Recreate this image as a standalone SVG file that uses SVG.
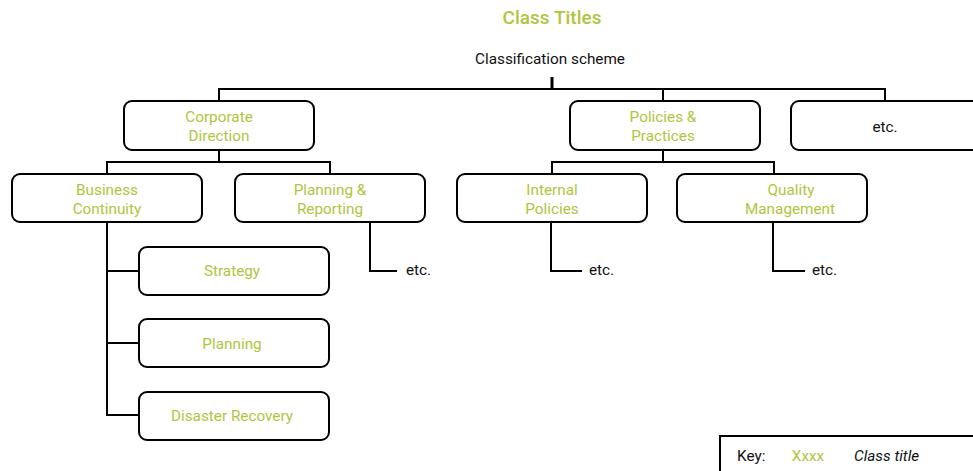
<svg xmlns="http://www.w3.org/2000/svg" width="973" height="471" viewBox="0 0 973 471">
<style>
.box{fill:#fff;stroke:#000;stroke-width:2}
.ln{fill:none;stroke:#000;stroke-width:2}
.g{font-family:Roboto,"Liberation Sans",sans-serif;font-size:15.3px;fill:#b0c53e;text-anchor:middle}
.k{font-family:Roboto,"Liberation Sans",sans-serif;font-size:15.3px;fill:#111}
</style>
<rect width="973" height="471" fill="#fff"/>
<text x="552" y="24" style="font-family:Roboto,'Liberation Sans',sans-serif;font-size:19px;font-weight:500;fill:#b0c53e;text-anchor:middle">Class Titles</text>
<text x="550" y="64" class="k" text-anchor="middle">Classification scheme</text>
<g id="connectors">
<path class="ln" d="M552 77V89M219 101V89H885V101M663 89V101"/>
<path class="ln" d="M219 150V162M107 174V162H330V174"/>
<path class="ln" d="M663 150V162M552 174V162H774V174"/>
<path class="ln" d="M107 222V415H139M107 271H139M107 343H139"/>
<path class="ln" d="M370 222V271H397"/>
<path class="ln" d="M551 222V271H582"/>
<path class="ln" d="M773 222V271H805"/>
<path d="M552 77V89" stroke="#000" stroke-width="3"/>
</g>
<g id="corporate-direction"><rect class="box" x="124" y="101" width="190" height="49" rx="8"/><text class="g" x="219" y="122">Corporate</text><text class="g" x="219" y="141">Direction</text></g>
<g id="policies-practices"><rect class="box" x="570" y="101" width="190" height="49" rx="8"/><text class="g" x="663" y="122">Policies &amp;</text><text class="g" x="663" y="141">Practices</text></g>
<g id="etc-top"><rect class="box" x="791" y="101" width="200" height="49" rx="8"/><text class="k" x="885" y="132" text-anchor="middle">etc.</text></g>
<g id="business-continuity"><rect class="box" x="12" y="174" width="190" height="48" rx="8"/><text class="g" x="107" y="195">Business</text><text class="g" x="107" y="214">Continuity</text></g>
<g id="planning-reporting"><rect class="box" x="235" y="174" width="190" height="48" rx="8"/><text class="g" x="330" y="195">Planning &amp;</text><text class="g" x="330" y="214">Reporting</text></g>
<g id="internal-policies"><rect class="box" x="457" y="174" width="190" height="48" rx="8"/><text class="g" x="552" y="195">Internal</text><text class="g" x="552" y="214">Policies</text></g>
<g id="quality-management"><rect class="box" x="677" y="174" width="190" height="48" rx="8"/><text class="g" x="791" y="195">Quality</text><text class="g" x="790" y="214">Management</text></g>
<g id="strategy"><rect class="box" x="139" y="247" width="190" height="48" rx="8"/><text class="g" x="232" y="276">Strategy</text></g>
<g id="planning"><rect class="box" x="139" y="319" width="190" height="48" rx="8"/><text class="g" x="232" y="349">Planning</text></g>
<g id="disaster-recovery"><rect class="box" x="139" y="392" width="190" height="48" rx="8"/><text class="g" x="232" y="421">Disaster Recovery</text></g>
<g id="etc-pr"><text class="k" x="406" y="275">etc.</text></g>
<g id="etc-ip"><text class="k" x="589" y="275">etc.</text></g>
<g id="etc-qm"><text class="k" x="812" y="275">etc.</text></g>
<g id="key"><rect class="box" x="720" y="436" width="270" height="50"/><text class="k" x="737" y="461">Key:</text><text class="g" x="808" y="461">Xxxx</text><text class="k" x="854" y="461" font-style="italic">Class title</text></g>
</svg>
